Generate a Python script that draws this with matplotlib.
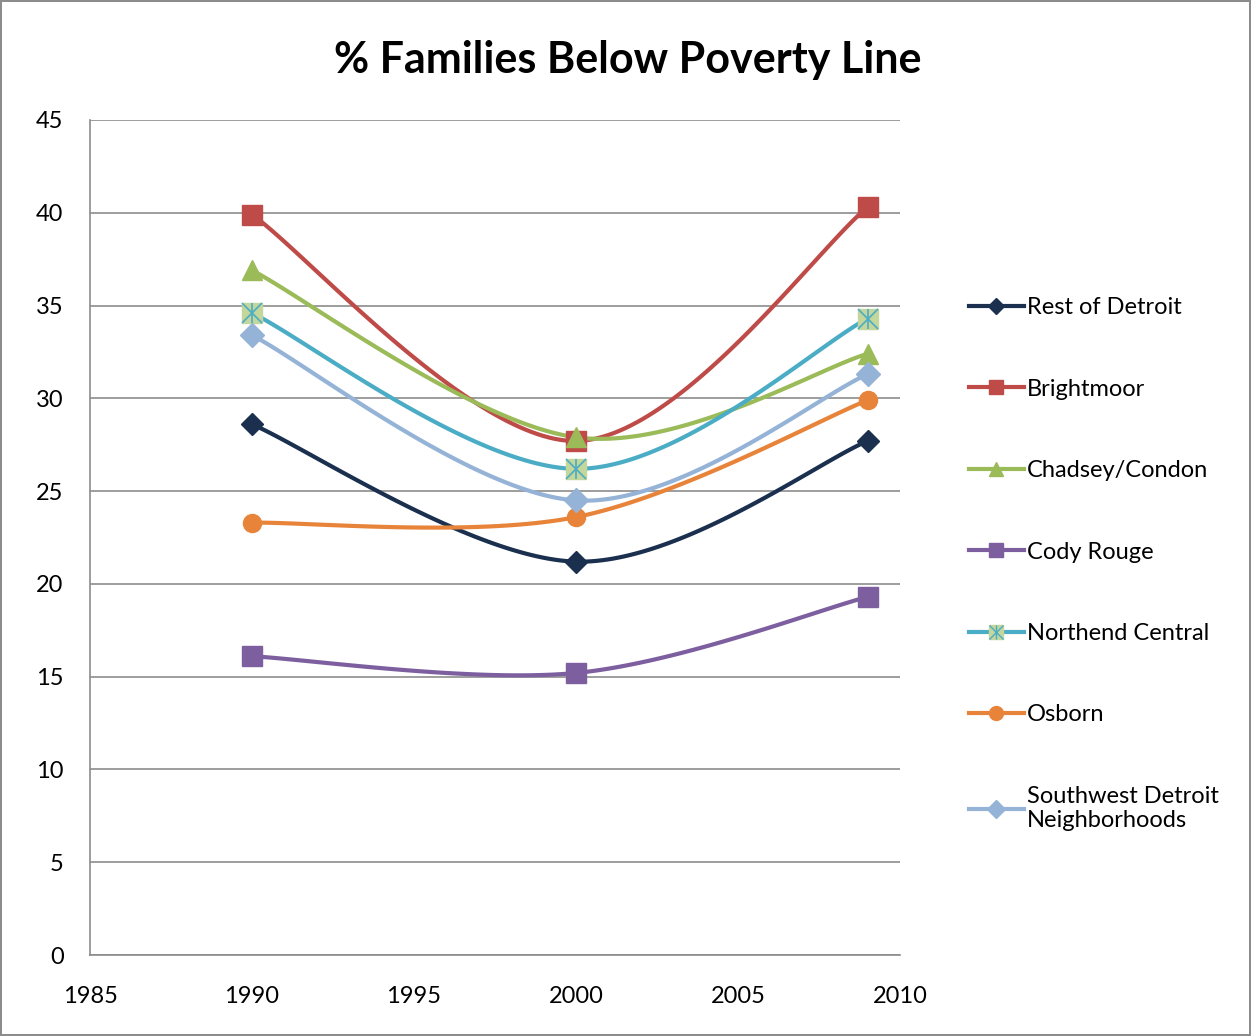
import numpy as np
import matplotlib.pyplot as plt
from matplotlib.lines import Line2D
from matplotlib.legend_handler import HandlerTuple

years = [1990, 2000, 2009]
rest_of_detroit = [28.6, 21.2, 27.7]
brightmoor = [39.9, 27.7, 40.3]
chadsey_condon = [36.9, 27.9, 32.4]
cody_rouge = [16.1, 15.2, 19.3]
northend_central = [34.6, 26.2, 34.3]
osborn = [23.3, 23.6, 29.9]
southwest = [33.4, 24.5, 31.3]

names = ["Rest of Detroit", "Brightmoor", "Chadsey/Condon", "Cody Rouge",
         "Northend Central", "Osborn", "Southwest Detroit\nNeighborhoods"]
series = [rest_of_detroit, brightmoor, chadsey_condon, cody_rouge,
          northend_central, osborn, southwest]
colors = ["#1B2F4E", "#BE4B48", "#9BBB59", "#7D5FA0", "#4BACC6", "#E8843A", "#95B3D7"]
markers = ["D", "s", "^", "s", "s", "o", "D"]
msizes = [11, 14, 14, 14, 14, 13, 12]
leg_sizes = [8, 10, 10, 10, 10, 10, 9]


def smooth(xs, ys, n=60):
    # Bezier smoothing the way spreadsheet charts do it (Catmull-Rom, tension 1/6)
    p = np.column_stack([xs, ys]).astype(float)
    ext = np.vstack([p[0], p, p[-1]])
    out = []
    for i in range(len(p) - 1):
        p0, p1, p2, p3 = ext[i], ext[i + 1], ext[i + 2], ext[i + 3]
        c1 = p1 + (p2 - p0) / 6
        c2 = p2 - (p3 - p1) / 6
        t = np.linspace(0, 1, n)[:, None]
        seg = ((1 - t) ** 3) * p1 + 3 * ((1 - t) ** 2) * t * c1 + 3 * (1 - t) * t ** 2 * c2 + t ** 3 * p2
        out.append(seg if i == 0 else seg[1:])
    out = np.vstack(out)
    return out[:, 0], out[:, 1]


plt.rcParams['font.family'] = ['Lato', 'DejaVu Sans']

fig = plt.figure(figsize=(12.51, 10.36), dpi=100)
fig.patch.set_edgecolor("#8C8C8C")
fig.patch.set_linewidth(1.5)
ax = fig.add_axes([90 / 1251, 1 - 955 / 1036, 810 / 1251, 835 / 1036])

handles = []
for name, vals, c, m, ms, lms in zip(names, series, colors, markers, msizes, leg_sizes):
    sx, sy = smooth(years, vals)
    ax.plot(sx, sy, color=c, lw=3, solid_capstyle='round', zorder=3)
    if name == "Northend Central":
        ax.plot(years, vals, ls='none', marker='s', ms=ms, mfc="#C3D69B", mec="#C3D69B", zorder=4)
        ax.plot(years, vals, ls='none', marker='x', ms=ms, mew=1.2, color=c, zorder=5)
        ax.plot(years, vals, ls='none', marker='|', ms=ms, mew=1.2, color=c, zorder=5)
        h = (Line2D([], [], color=c, lw=3),
             Line2D([], [], ls='none', marker='s', ms=lms, mfc="#C3D69B", mec="#C3D69B"),
             Line2D([], [], ls='none', marker='x', ms=lms, mew=1, color=c),
             Line2D([], [], ls='none', marker='|', ms=lms, mew=1, color=c))
    else:
        ax.plot(years, vals, ls='none', marker=m, ms=ms, color=c, zorder=4)
        h = Line2D([], [], color=c, lw=3, marker=m, ms=lms)
    handles.append(h)

ax.set_xlim(1985, 2010)
ax.set_ylim(0, 45)
ax.set_xticks(range(1985, 2011, 5))
ax.set_yticks(range(0, 46, 5))
ax.yaxis.grid(True, color="#8C8C8C", lw=1.2)
ax.set_axisbelow(True)
for s in ["top", "right"]:
    ax.spines[s].set_visible(False)
for s in ["left", "bottom"]:
    ax.spines[s].set_color("#8C8C8C")
    ax.spines[s].set_linewidth(1.2)
ax.tick_params(length=0, labelsize=17, colors="#000000")
ax.tick_params(axis='x', pad=22)
ax.tick_params(axis='y', pad=19)

fig.text(628 / 1251, 1 - 60 / 1036, "% Families Below Poverty Line", ha='center', va='center',
         fontsize=31, fontweight='bold')

leg = fig.legend(handles, names, loc='upper left', bbox_to_anchor=(948 / 1251, 1 - 276 / 1036),
                 frameon=False, fontsize=17, labelspacing=2.56, handlelength=2.3,
                 handletextpad=0.15, handler_map={tuple: HandlerTuple(ndivide=1, pad=0)})

fig.savefig("out.png", dpi=100)
